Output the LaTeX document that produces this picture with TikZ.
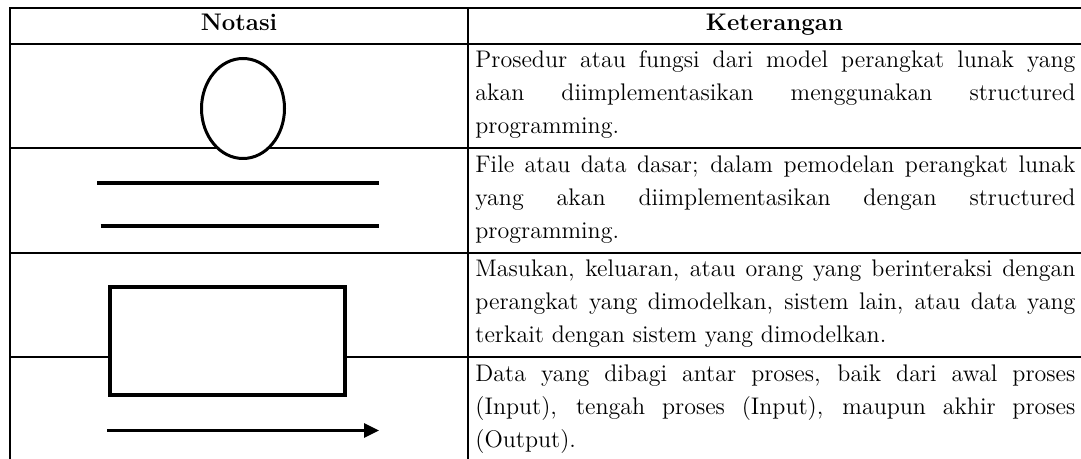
\documentclass[tikz,border=0pt]{standalone}
\usepackage{fontspec}
\usetikzlibrary{arrows.meta,shapes.geometric}
\tikzset{
  rule/.style={line width=1pt, line cap=rect},
  toprule/.style={line width=1.3pt, line cap=rect},
  desc/.style={anchor=north west, inner sep=0pt, text width=300pt, align=justify,
    font={\fontsize{12}{16.5}\selectfont\tolerance=10000\hyphenpenalty=10000\emergencystretch=20pt}},
  head/.style={anchor=base, inner sep=0pt, font={\fontsize{12}{14}\selectfont\bfseries}},
  sym/.style={draw, fill=white, inner sep=0pt},
  ovalsym/.style={sym, ellipse, line width=1.5pt, minimum width=41.5pt, minimum height=50pt},
  boxsym/.style={sym, rectangle, line width=2.2pt, minimum width=117.25pt, minimum height=53.75pt},
  fileline/.style={line width=1.8pt},
  flowline/.style={line width=1.5pt, -{Triangle[length=7.5pt,width=7pt]}},
}
\begin{document}
\begin{tikzpicture}[x=0.5pt,y=-0.5pt]
  \useasboundingbox (0,0) rectangle (1081,459);
  % table rules
  \draw[toprule] (10,8) -- (1081,8);
  \draw[rule] (10,44) -- (1081,44);
  \draw[rule] (10,148.5) -- (1081,148.5);
  \draw[rule] (10,253) -- (1081,253);
  \draw[rule] (10,357.5) -- (1081,357.5);
  \draw[rule] (10,8) -- (10,459);
  \draw[rule] (468,8) -- (468,459);
  % headers
  \node[head] (hnot) at (239,31) {Notasi};
  \node[head] (hket) at (774.5,31) {Keterangan};
  % symbols
  \node[ovalsym] (proc) at (243,108.5) {};
  \coordinate (f1a) at (97,183);   \coordinate (f1b) at (379,183);
  \coordinate (f2a) at (100.5,226); \coordinate (f2b) at (379,226);
  \draw[fileline, line width=2pt] (f1a) -- (f1b);
  \draw[fileline, line width=1.6pt] (f2a) -- (f2b);
  \node[boxsym] (ent) at (227.5,341) {};
  \coordinate (fla) at (107,430.5); \coordinate (flb) at (379,430.5);
  \draw[flowline] (fla) -- (flb);
  % descriptions
  \node[desc] (d1) at (475,44.5) {\strut Prosedur atau fungsi dari model perangkat lunak yang\linebreak akan diimplementasikan menggunakan structured\linebreak programming.};
  \node[desc] (d2) at (475,149) {\strut File atau data dasar; dalam pemodelan perangkat lunak\linebreak yang akan diimplementasikan dengan structured\linebreak programming.};
  \node[desc] (d3) at (475,253.5) {\strut Masukan, keluaran, atau orang yang berinteraksi dengan\linebreak perangkat yang dimodelkan, sistem lain, atau data yang\linebreak terkait dengan sistem yang dimodelkan.};
  \node[desc] (d4) at (475,358) {\strut Data yang dibagi antar proses, baik dari awal proses\linebreak (Input), tengah proses (Input), maupun akhir proses\linebreak (Output).};
\end{tikzpicture}
\end{document}
